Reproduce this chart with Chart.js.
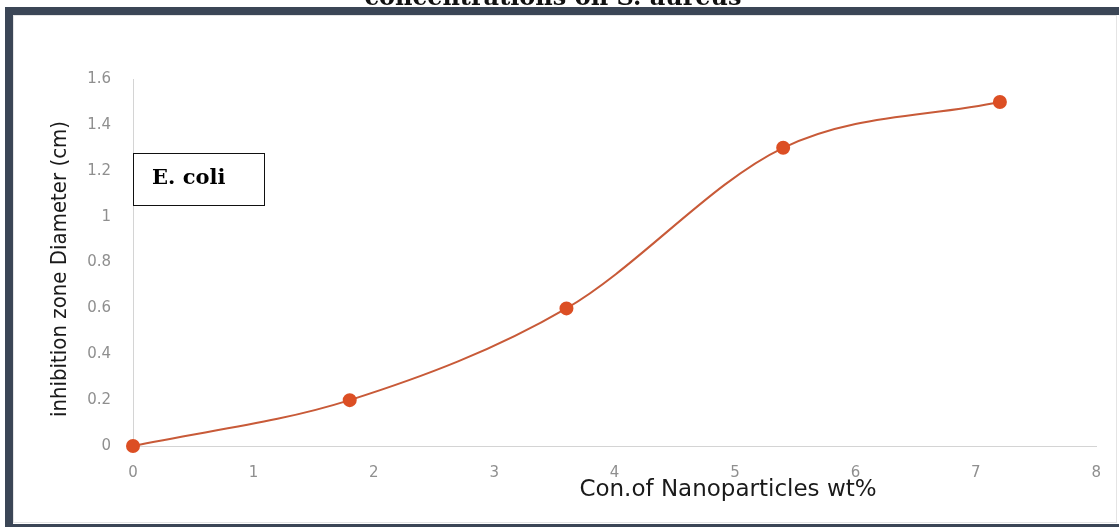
<!DOCTYPE html>
<html>
<head>
<meta charset="utf-8">
<script src="https://cdn.jsdelivr.net/npm/chart.js@4.4.1/dist/chart.umd.min.js"></script>
<style>
  html, body { margin: 0; padding: 0; background: #ffffff; }
  #wrap { position: relative; width: 1119px; height: 527px; }
</style>
</head>
<body>
<div id="wrap"><canvas id="zoneChart"></canvas></div>
<script>
// Concentration of nanoparticles (wt%) and inhibition zone diameter (cm)
const concentrations = [0, 1.8, 3.6, 5.4, 7.2];
const zoneDiameters = [0, 0.2, 0.6, 1.3, 1.5];

// Texts shown on the figure
const titleText = 'concentrations on S. aureus';
const xTitle = 'Con.of Nanoparticles wt%';
const yTitle = 'inhibition zone Diameter (cm)';
const boxLabel = 'E. coli';

const ctx = document.getElementById('zoneChart').getContext('2d');

// Draws the frame, the cut-off caption, the axis titles and the label box
const decorations = {
  id: 'decorations',
  beforeDraw(chart) {
    const c = chart.ctx;
    c.save();
    c.fillStyle = '#ffffff';
    c.fillRect(0, 0, chart.width, chart.height);
    // dark frame (left, top, bottom)
    c.fillStyle = '#3b4656';
    c.fillRect(5, 7, 1114, 8);
    c.fillRect(5, 7, 8, 520);
    c.fillRect(5, 524, 1114, 3);
    // faint inner line
    c.strokeStyle = '#e4e4e4';
    c.lineWidth = 1;
    c.strokeRect(13.5, 15.5, 1103, 507);
    c.restore();
  },
  afterDraw(chart) {
    const c = chart.ctx;
    c.save();
    // caption cut off by the frame
    c.fillStyle = '#111111';
    c.font = 'bold 24px "DejaVu Serif"';
    c.textAlign = 'center';
    c.textBaseline = 'alphabetic';
    c.fillText(titleText, 553, 5);
    c.fillStyle = '#3b4656';
    c.fillRect(5, 7, 1114, 8);

    // x axis title
    c.fillStyle = '#1a1a1a';
    c.font = '23px "DejaVu Sans"';
    c.textBaseline = 'middle';
    c.fillText(xTitle, 728, 490);

    // y axis title
    c.translate(60, 269);
    c.rotate(-Math.PI / 2);
    c.font = '22px "DejaVu Sans Condensed", "Liberation Sans Narrow", sans-serif';
    c.fillText(yTitle, 0, 0);
    c.setTransform(1, 0, 0, 1, 0, 0);

    // label box
    c.fillStyle = '#ffffff';
    c.fillRect(133, 153, 131, 52);
    c.strokeStyle = '#111111';
    c.lineWidth = 1;
    c.strokeRect(133.5, 153.5, 131, 52);
    c.fillStyle = '#000000';
    c.font = 'bold 21px "DejaVu Serif"';
    c.textAlign = 'left';
    c.fillText(boxLabel, 152, 179);
    c.restore();
  }
};

const chart = new Chart(ctx, {
  type: 'scatter',
  data: {
    datasets: [{
      label: 'E. coli',
      data: concentrations.map((x, i) => ({ x: x, y: zoneDiameters[i] })),
      showLine: true,
      tension: 0.4,
      cubicInterpolationMode: 'monotone',
      borderColor: '#c85a38',
      borderWidth: 2,
      backgroundColor: '#dc4f24',
      pointBackgroundColor: '#dc4f24',
      pointBorderColor: '#dc4f24',
      pointRadius: 6,
      clip: false
    }]
  },
  plugins: [decorations],
  options: {
    responsive: true,
    maintainAspectRatio: false,
    animation: false,
    layout: { padding: { left: 0, right: 20, top: 79, bottom: 0 } },
    plugins: {
      legend: { display: false },
      tooltip: { enabled: false }
    },
    scales: {
      x: {
        type: 'linear',
        min: 0,
        max: 8,
        ticks: { stepSize: 1, color: '#8f8f8f', font: { size: 15, family: 'DejaVu Sans' }, padding: 18 },
        grid: { display: false, drawTicks: false },
        border: { display: true, color: '#d4d4d4', width: 1 },
        afterFit(scale) { scale.height = 81; }
      },
      y: {
        min: 0,
        max: 1.6,
        ticks: {
          stepSize: 0.2,
          color: '#8f8f8f',
          font: { size: 15, family: 'DejaVu Sans' },
          padding: 22,
          callback: v => String(Math.round(v * 10) / 10)
        },
        grid: { display: false, drawTicks: false },
        border: { display: true, color: '#d4d4d4', width: 1 },
        afterFit(scale) { scale.width = 133; }
      }
    }
  }
});
</script>
</body>
</html>
